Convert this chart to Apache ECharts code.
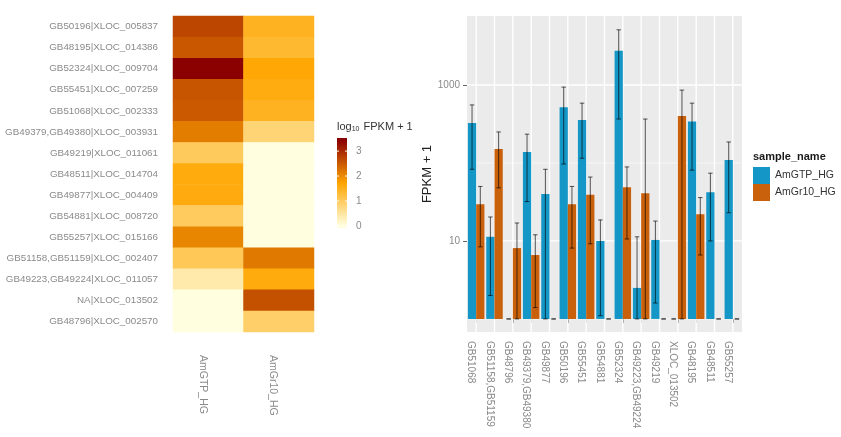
<!DOCTYPE html>
<html><head><meta charset="utf-8">
<script src="https://cdn.jsdelivr.net/npm/echarts@6/dist/echarts.min.js"></script>
<style>html,body{margin:0;padding:0;background:#fff}#c{width:841px;height:437px}</style>
</head><body><div id="c"></div>
<script>
// ---------- heatmap data (log10 FPKM + 1) ----------
const heatRows = [
  'GB50196|XLOC_005837', 'GB48195|XLOC_014386', 'GB52324|XLOC_009704',
  'GB55451|XLOC_007259', 'GB51068|XLOC_002333', 'GB49379,GB49380|XLOC_003931',
  'GB49219|XLOC_011061', 'GB48511|XLOC_014704', 'GB49877|XLOC_004409',
  'GB54881|XLOC_008720', 'GB55257|XLOC_015166', 'GB51158,GB51159|XLOC_002407',
  'GB49223,GB49224|XLOC_011057', 'NA|XLOC_013502', 'GB48796|XLOC_002570'
];
const heatSamples = ['AmGTP_HG', 'AmGr10_HG'];
const heatGTP  = [2.72, 2.53, 3.44, 2.55, 2.51, 2.14, 1.01, 1.62, 1.60, 1.00, 2.04, 1.05, 0.40, 0, 0];
const heatGr10 = [1.47, 1.34, 1.69, 1.59, 1.47, 0.82, 0, 0, 0, 0, 0, 2.18, 1.61, 2.60, 0.91];
const colorbarTicks = [0, 1, 2, 3];
const heatColors = ['#FFFFE0', '#FFA500', '#8B0000'];

// ---------- bar chart data (FPKM + 1) ----------
const categories = ['GB51068', 'GB51158,GB51159', 'GB48796', 'GB49379,GB49380', 'GB49877',
  'GB50196', 'GB55451', 'GB54881', 'GB52324', 'GB49223,GB49224', 'GB49219',
  'XLOC_013502', 'GB48195', 'GB48511', 'GB55257'];
const sampleNames = ['AmGTP_HG', 'AmGr10_HG'];
const gtpMean  = [325, 11.3, 1, 138, 40, 520, 356, 10, 2740, 2.5, 10.3, 1, 340, 42, 109];
const gtpLow   = [83, 2, 1, 32, 1, 97, 115, 1.1, 366, 1, 1.6, 1, 81, 10, 23];
const gtpHigh  = [555, 20.3, 1, 234, 83, 940, 585, 18.6, 5100, 11.3, 18, 1, 585, 74, 186];
const gr10Mean = [29.5, 151, 8.1, 6.6, 1, 29.5, 39, 1, 49, 41, 1, 400, 22, 1, 1];
const gr10Low  = [8.4, 48, 1, 1.4, 1, 8.1, 9.2, 1, 10.6, 1, 1, 1, 6.6, 1, 1];
const gr10High = [50, 250, 17, 12, 1, 50, 66, 1, 89, 366, 1, 860, 36, 1, 1];
const yMajor = [10, 1000];
const yMinor = [1, 100];
const yRange = [0.68, 7670];

// ---------- build ----------
const L = Math.log10;
const FONT = '"Liberation Sans", Arial, sans-serif';
const AX = '#8a8a8a';
const BLUE = '#1496C6', ORANGE = '#C9600B';

const heatData = [];
heatRows.forEach((r, i) => { heatData.push([0, i, heatGTP[i]]); heatData.push([1, i, heatGr10[i]]); });
const heatMin = Math.min(...heatGTP, ...heatGr10), heatMax = Math.max(...heatGTP, ...heatGr10);
const cbHalf = (heatMax - heatMin) / 40;
const cbMin = heatMin - cbHalf, cbMax = heatMax + cbHalf;

function errSeries(name, low, high, sign) {
  return {
    type: 'custom', name: name + '_err', xAxisIndex: 2, yAxisIndex: 2, z: 4, silent: true,
    data: categories.map((c, i) => [i, L(low[i]), L(high[i])]),
    renderItem(params, api) {
      const i = api.value(0);
      const bw = api.size([1, 0])[0];
      const cx = api.coord([i, 0])[0] + sign * bw * 0.225;
      const y1 = api.coord([i, api.value(1)])[1];
      const y2 = api.coord([i, api.value(2)])[1];
      const h = bw * 0.45 * 0.27;
      const st = { stroke: 'rgba(0,0,0,0.65)', lineWidth: 1 };
      return { type: 'group', children: [
        { type: 'line', shape: { x1: cx, y1: y1, x2: cx, y2: y2 }, style: st },
        { type: 'line', shape: { x1: cx - h, y1: y1, x2: cx + h, y2: y1 }, style: st },
        { type: 'line', shape: { x1: cx - h, y1: y2, x2: cx + h, y2: y2 }, style: st }
      ] };
    }
  };
}

const option = {
  backgroundColor: '#ffffff',
  animation: false,
  textStyle: { fontFamily: FONT },
  title: [
    { text: 'sample_name', left: 748, top: 146, textStyle: { fontSize: 11, fontWeight: 'bold', color: '#1a1a1a', fontFamily: FONT } },
    { text: '{a|log}{s|10}{a| FPKM + 1}', left: 332, top: 115,
      textStyle: { fontWeight: 'normal', rich: {
        a: { fontSize: 11, color: '#333', fontFamily: FONT, fontWeight: 'normal' },
        s: { fontSize: 7, color: '#333', fontFamily: FONT, fontWeight: 'normal', padding: [6, 1, 0, 0] }
      } } }
  ],
  legend: {
    orient: 'vertical', left: 748, top: 162, itemWidth: 17, itemHeight: 17, itemGap: 0,
    icon: 'rect', data: sampleNames,
    textStyle: { fontSize: 10.5, color: '#333', fontFamily: FONT }
  },
  grid: [
    { left: 173, top: 16, width: 141, height: 316 },
    { left: 337, top: 138, width: 10, height: 90 },
    { left: 467, top: 16, width: 275, height: 316, show: true, backgroundColor: '#EBEBEB', borderWidth: 0 }
  ],
  visualMap: {
    show: false, seriesIndex: 0, min: heatMin, max: heatMax, calculable: false,
    inRange: { color: heatColors }
  },
  xAxis: [
    { gridIndex: 0, type: 'category', data: heatSamples,
      axisLine: { show: false }, axisTick: { show: false }, splitLine: { show: false },
      axisLabel: { rotate: -90, margin: 23, fontSize: 10.5, color: AX, fontFamily: FONT, verticalAlign: 'top' } },
    { gridIndex: 1, type: 'value', min: 0, max: 1, show: false },
    { gridIndex: 2, type: 'category', data: categories,
      axisLine: { show: false },
      axisTick: { show: true, alignWithLabel: true, length: 4, lineStyle: { color: '#666' } },
      splitLine: { show: false },
      axisLabel: { rotate: -90, margin: 9, fontSize: 10, color: AX, fontFamily: FONT, interval: 0, verticalAlign: 'top' } }
  ],
  yAxis: [
    { gridIndex: 0, type: 'category', data: heatRows, inverse: true,
      axisLine: { show: false }, axisTick: { show: false }, splitLine: { show: false },
      axisLabel: { margin: 15, fontSize: 9.8, color: AX, fontFamily: FONT, interval: 0 } },
    { gridIndex: 1, type: 'value', min: cbMin, max: cbMax, position: 'right',
      axisLine: { show: false }, axisTick: { show: false }, splitLine: { show: false },
      axisLabel: { customValues: colorbarTicks, margin: 9, fontSize: 10, color: AX, fontFamily: FONT } },
    { gridIndex: 2, type: 'value', min: L(yRange[0]), max: L(yRange[1]),
      name: 'FPKM + 1', nameLocation: 'middle', nameGap: 31,
      nameTextStyle: { fontSize: 13, color: '#222', fontFamily: FONT },
      axisLine: { show: false }, splitLine: { show: false },
      axisTick: { show: true, customValues: yMajor.map(L), length: 4, lineStyle: { color: '#666' } },
      axisLabel: { customValues: yMajor.map(L), fontSize: 10, color: AX, fontFamily: FONT, margin: 7,
        formatter: v => String(Math.round(Math.pow(10, v))) } }
  ],
  series: [
    { type: 'heatmap', xAxisIndex: 0, yAxisIndex: 0, data: heatData, silent: true },
    { type: 'custom', name: 'colorbar', xAxisIndex: 1, yAxisIndex: 1, silent: true,
      data: [[0, heatMin, heatMax]],
      renderItem(params, api) {
        const cs = params.coordSys;
        const yLo = api.coord([0, api.value(1)])[1], yHi = api.coord([0, api.value(2)])[1];
        const top = cs.y, bot = cs.y + cs.height;
        const f = y => (bot - y) / (bot - top);
        const stops = [];
        heatColors.forEach((c, k) => {
          const yy = yLo + (yHi - yLo) * k / (heatColors.length - 1);
          stops.push({ offset: Math.max(0, Math.min(1, f(yy))), color: c });
        });
        stops.unshift({ offset: 0, color: heatColors[0] });
        stops.push({ offset: 1, color: heatColors[heatColors.length - 1] });
        const kids = [{ type: 'rect', shape: { x: cs.x, y: top, width: cs.width, height: cs.height },
          style: { fill: new echarts.graphic.LinearGradient(0, 1, 0, 0, stops) } }];
        colorbarTicks.forEach(t => {
          const y = api.coord([0, t])[1];
          kids.push({ type: 'line', shape: { x1: cs.x, y1: y, x2: cs.x + 2, y2: y }, style: { stroke: '#fff', lineWidth: 1 } });
          kids.push({ type: 'line', shape: { x1: cs.x + cs.width - 2, y1: y, x2: cs.x + cs.width, y2: y }, style: { stroke: '#fff', lineWidth: 1 } });
        });
        return { type: 'group', children: kids };
      } },
    { type: 'custom', name: 'hgrid', xAxisIndex: 2, yAxisIndex: 2, z: 1, silent: true,
      data: yMajor.map(v => [0, L(v), 1]).concat(yMinor.map(v => [0, L(v), 0])),
      renderItem(params, api) {
        const cs = params.coordSys;
        const y = api.coord([0, api.value(1)])[1];
        return { type: 'line', shape: { x1: cs.x, y1: y, x2: cs.x + cs.width, y2: y },
          style: { stroke: '#fff', lineWidth: api.value(2) ? 1.3 : 0.6 } };
      } },
    { type: 'custom', name: 'vgrid', xAxisIndex: 2, yAxisIndex: 2, z: 1, silent: true,
      data: categories.map((c, i) => [i, 0]),
      renderItem(params, api) {
        const cs = params.coordSys;
        const x = api.coord([api.value(0), 0])[0];
        return { type: 'line', shape: { x1: x, y1: cs.y, x2: x, y2: cs.y + cs.height },
          style: { stroke: '#fff', lineWidth: 1.3 } };
      } },
    { type: 'bar', name: sampleNames[0], xAxisIndex: 2, yAxisIndex: 2, z: 2,
      data: gtpMean.map(L), barGap: '0%', barCategoryGap: '10%', itemStyle: { color: BLUE } },
    { type: 'bar', name: sampleNames[1], xAxisIndex: 2, yAxisIndex: 2, z: 2,
      data: gr10Mean.map(L), barGap: '0%', barCategoryGap: '10%', itemStyle: { color: ORANGE } },
    errSeries(sampleNames[0], gtpLow, gtpHigh, -1),
    errSeries(sampleNames[1], gr10Low, gr10High, 1)
  ]
};
const chart = echarts.init(document.getElementById('c'));
chart.setOption(option);
</script>
</body></html>
